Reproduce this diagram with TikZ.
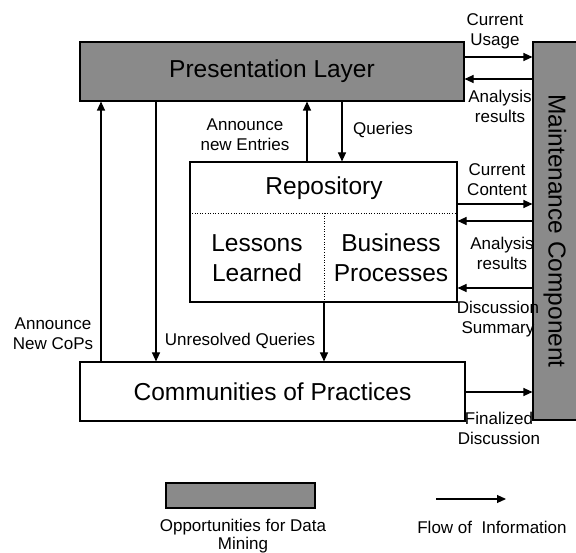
\documentclass[tikz,border=0pt]{standalone}
\usepackage{fontspec}
\setmainfont{Liberation Sans}
\usetikzlibrary{arrows.meta}
\definecolor{dmgray}{RGB}{138,138,138}
\newcommand\bigtxt{\fontsize{24.5}{30}\selectfont}
\newcommand\smalltxt{\fontsize{17}{20}\selectfont}
\begin{document}
\begin{tikzpicture}[x=1pt,y=-1pt,
  block/.style={draw=black, line width=1.1pt, inner sep=0pt, font=\bigtxt},
  lbl/.style={align=center, inner sep=0pt, font=\smalltxt},
  flow/.style={line width=1.1pt, -{Triangle[length=9pt,width=8pt]}},
  divider/.style={dotted, line width=0.6pt}]
\useasboundingbox (0,0) rectangle (576,553);
\clip (0,0) rectangle (576,553);

% main blocks
\node[block, fill=dmgray, minimum width=384, minimum height=59] (pres) at (272,71.5) {Presentation Layer};
\node[block, fill=dmgray, minimum width=50, minimum height=378] (maint) at (558,231) {};
\node[rotate=-90, font=\bigtxt, inner sep=0pt] (maintlbl) at (555,231) {Maintenance Component};
\node[block, fill=white, minimum width=267, minimum height=140] (repo) at (323.5,232) {};
\node[block, minimum width=385, minimum height=59] (comm) at (272.5,391.5) {Communities of Practices};

% repository compartments
\node[font=\bigtxt, inner sep=0pt] (repotitle) at (324,188) {Repository};
\coordinate (hdivL) at (repo.west |- 0,213);
\coordinate (hdivR) at (repo.east |- 0,213);
\coordinate (vdivT) at (324,213);
\coordinate (vdivB) at (repo.south -| 324,0);
\draw[divider] (hdivL) -- (hdivR);
\draw[divider] (vdivT) -- (vdivB);
\node[font=\bigtxt, align=center, inner sep=0pt] (lessons) at (257,258) {Lessons\\Learned};
\node[font=\bigtxt, align=center, inner sep=0pt] (business) at (391,258) {Business\\Processes};

% flows to and from the maintenance component
\draw[flow] (pres.east |- 0,57) -- (maint.west |- 0,57);
\draw[flow] (maint.west |- 0,79) -- (pres.east |- 0,79);
\draw[flow] (repo.east |- 0,204) -- (maint.west |- 0,204);
\draw[flow] (maint.west |- 0,221) -- (repo.east |- 0,221);
\draw[flow] (maint.west |- 0,288) -- (repo.east |- 0,288);
\draw[flow] (comm.east |- 0,392) -- (maint.west |- 0,392);

\node[lbl] (usage) at (495,31) {Current\\Usage};
\node[lbl] (res1) at (500,106) {Analysis\\results};
\node[lbl] (content) at (497,180) {Current\\Content};
\node[lbl] (res2) at (502,253) {Analysis\\results};
\node[lbl] (summary) at (498,319) {Discussion\\Summary};
\node[lbl] (final) at (499,428) {Finalized\\Discussion};

% vertical flows
\draw[flow] (comm.north -| 101,0) -- (pres.south -| 101,0);
\draw[flow] (pres.south -| 156,0) -- (comm.north -| 156,0);
\draw[flow] (repo.north -| 307,0) -- (pres.south -| 307,0);
\draw[flow] (pres.south -| 342,0) -- (repo.north -| 342,0);
\draw[flow] (repo.south -| 324,0) -- (comm.north -| 324,0);

\node[lbl] (cops) at (53,334) {Announce\\New CoPs};
\node[lbl] (entries) at (245,135) {Announce\\new Entries};
\node[lbl] (queries) at (383,130) {Queries};
\node[lbl] (unres) at (240,341) {Unresolved Queries};

% legend
\node[block, fill=dmgray, minimum width=149, minimum height=25] (legbox) at (240.5,495.5) {};
\node[lbl, font=\fontsize{17}{18.5}\selectfont] (legtxt) at (243,536) {Opportunities for Data\\Mining};
\coordinate (legA) at (436,499);
\coordinate (legB) at (506,499);
\draw[flow] (legA) -- (legB);
\node[lbl] (flowtxt) at (492,527) {Flow of~ Information};
\end{tikzpicture}
\end{document}
